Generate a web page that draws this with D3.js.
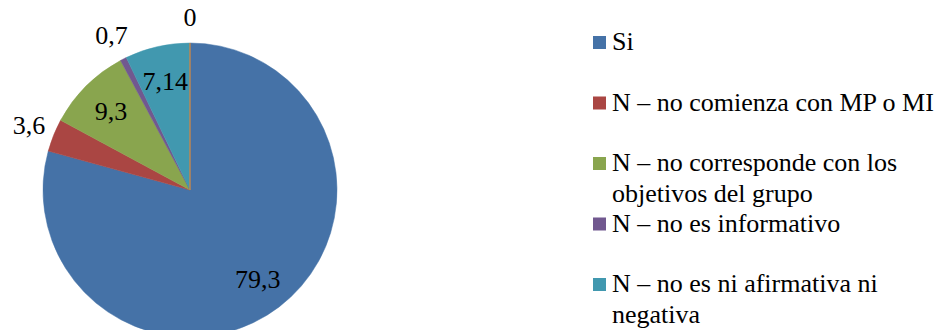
<!DOCTYPE html>
<html lang="es">
<head>
<meta charset="utf-8">
<script src="https://cdn.jsdelivr.net/npm/d3@7"></script>
<style>
  html, body { margin: 0; padding: 0; background: #fff; }
  svg { display: block; overflow: hidden; }
</style>
</head>
<body>
<svg id="chart" width="946" height="330"></svg>
<script>
// Answer categories (a "\n" marks where the legend entry wraps)
const categories = [
  "Si",
  "N – no comienza con MP o MI",
  "N – no corresponde con los\nobjetivos del grupo",
  "N – no es informativo",
  "N – no es ni afirmativa ni\nnegativa",
  "N – otro"
];
// Percentage for each category
const values = [79.3, 3.6, 9.3, 0.7, 7.14, 0];
// Text shown on each slice
const valueLabels = ["79,3", "3,6", "9,3", "0,7", "7,14", "0"];
// Whether the label sits inside the slice or just outside the rim
const labelInside = [true, false, true, false, true, false];
const colors = ["#4572A7", "#AA4643", "#89A54E", "#71588F", "#4198AF", "#DB843D"];

const fontFamily = "Liberation Serif";
const svg = d3.select("#chart");
const cx = 190, cy = 190, radius = 147;

const data = categories.map((c, i) => ({ name: c, value: values[i], label: valueLabels[i], inside: labelInside[i], color: colors[i] }));

const pie = d3.pie().sort(null).value(d => d.value);
const arcs = pie(data);
const arc = d3.arc().innerRadius(0).outerRadius(radius);
const innerLabelArc = d3.arc().innerRadius(radius * 0.76).outerRadius(radius * 0.76);
const outerLabelArc = d3.arc().innerRadius(radius * 1.18).outerRadius(radius * 1.18);

const g = svg.append("g").attr("transform", `translate(${cx},${cy})`);

g.selectAll("path.slice")
  .data(arcs)
  .join("path")
  .attr("class", "slice")
  .attr("d", arc)
  .attr("fill", d => d.data.color)
  .attr("stroke", d => d.data.color)
  .attr("stroke-width", d => d.data.value === 0 ? 1.2 : 0.5);

g.selectAll("text.value")
  .data(arcs)
  .join("text")
  .attr("class", "value")
  .attr("x", d => (d.data.inside ? innerLabelArc : outerLabelArc).centroid(d)[0])
  .attr("y", d => (d.data.inside ? innerLabelArc : outerLabelArc).centroid(d)[1] + 9)
  .attr("text-anchor", "middle")
  .attr("fill", "#000")
  .style("font-family", fontFamily, "important")
  .style("font-size", "26px", "important")
  .text(d => d.data.label);

// Legend
const legend = svg.append("g").attr("transform", "translate(593,0)");
const entryStep = 60.5, firstBaseline = 50, lineHeight = 31;
const items = legend.selectAll("g.item")
  .data(data)
  .join("g")
  .attr("class", "item")
  .attr("transform", (d, i) => `translate(0,${firstBaseline + i * entryStep})`);

items.append("rect")
  .attr("x", 0).attr("y", -14)
  .attr("width", 13).attr("height", 13)
  .attr("fill", d => d.color);

items.append("text")
  .attr("x", 19)
  .attr("fill", "#000")
  .style("font-family", fontFamily, "important")
  .style("font-size", "26px", "important")
  .selectAll("tspan")
  .data(d => d.name.split("\n"))
  .join("tspan")
  .attr("x", 19)
  .attr("y", (d, i) => i * lineHeight)
  .style("font-family", fontFamily, "important")
  .text(d => d);
</script>
</body>
</html>
